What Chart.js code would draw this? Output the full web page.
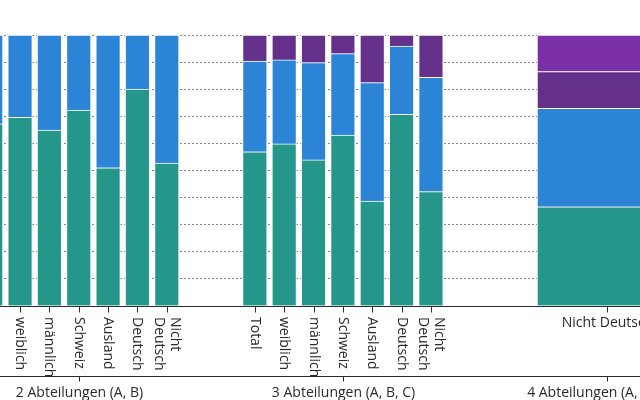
<!DOCTYPE html>
<html><head><meta charset="utf-8">
<script src="https://cdn.jsdelivr.net/npm/chart.js@4/dist/chart.umd.min.js"></script>
<style>html,body{margin:0;padding:0;background:#fff;overflow:hidden}#c{display:block}</style>
</head><body>
<canvas id="c" width="640" height="400"></canvas>
<script>
// ---- data ----
const groupLabels = ["2 Abteilungen (A, B)", "3 Abteilungen (A, B, C)", "4 Abteilungen (A, B, C, D)"];
const categories2 = ["Total", "weiblich", "männlich", "Schweiz", "Ausland", "Deutsch", "Nicht Deutsch"];
const categories3 = ["Total", "weiblich", "männlich", "Schweiz", "Ausland", "Deutsch", "Nicht Deutsch"];
const categories4 = ["Nicht Deutsch"];
const abtA2 = [67.2, 69.6, 64.9, 72.3, 51.0, 80.0, 52.7];
const abtB2 = [32.8, 30.4, 35.1, 27.7, 49.0, 20.0, 47.3];
const abtA3 = [56.9, 59.8, 53.9, 63.1, 38.7, 70.7, 42.2];
const abtB3 = [33.5, 31.0, 35.9, 30.0, 43.7, 25.2, 42.2];
const abtC3 = [9.6, 9.2, 10.2, 6.9, 17.6, 4.1, 15.6];
const abtA4 = [36.6];
const abtB4 = [36.3];
const abtC4 = [13.6];
const abtD4 = [13.5];
const yTicks = [0, 10, 20, 30, 40, 50, 60, 70, 80, 90, 100];

// ---- layout ----
const SLOT_GAPS = [2, 5];
const X_MIN = 0.317, X_MAX = 22.123;
const COLORS = {A: "#24968a", B: "#2b84d6", C: "#653089", D: "#7c30a8"};
const FONT = "'Open Sans', 'Noto Sans', sans-serif";

const groups = [categories2, categories3, categories4];
const groupStarts = [];
let s = 0;
groups.forEach((g, i) => { groupStarts.push(s); s += g.length + (SLOT_GAPS[i] || 0); });
const pts = (gi, arr) => arr.map((v, i) => ({x: groupStarts[gi] + i, y: v}));

const narrow = {barThickness: 24.5, borderColor: "#fff", borderWidth: 1, stack: "s"};
const wide = {barThickness: 140, borderColor: "#fff", borderWidth: 1, stack: "s"};

const datasets = [
  Object.assign({label: "A", data: pts(0, abtA2).concat(pts(1, abtA3)), backgroundColor: COLORS.A}, narrow),
  Object.assign({label: "B", data: pts(0, abtB2).concat(pts(1, abtB3)), backgroundColor: COLORS.B}, narrow),
  Object.assign({label: "C", data: pts(1, abtC3), backgroundColor: COLORS.C}, narrow),
  Object.assign({label: "A4", data: pts(2, abtA4), backgroundColor: COLORS.A}, wide),
  Object.assign({label: "B4", data: pts(2, abtB4), backgroundColor: COLORS.B}, wide),
  Object.assign({label: "C4", data: pts(2, abtC4), backgroundColor: COLORS.C}, wide),
  Object.assign({label: "D4", data: pts(2, abtD4), backgroundColor: COLORS.D}, wide),
];

const axisPlugin = {
  id: "multiAxis",
  afterDraw(chart) {
    const ctx = chart.ctx, xs = chart.scales.x, ca = chart.chartArea;
    const y0 = Math.round(ca.bottom) + 0.5;
    const y1 = 376.5;
    ctx.save();
    ctx.strokeStyle = "#2a2a2a"; ctx.lineWidth = 1;
    ctx.beginPath(); ctx.moveTo(0, y0); ctx.lineTo(640, y0); ctx.stroke();
    ctx.beginPath(); ctx.moveTo(0, y1); ctx.lineTo(640, y1); ctx.stroke();
    ctx.fillStyle = "#2a2a2a";
    ctx.font = "14px " + FONT;
    groups.forEach((cats, gi) => {
      cats.forEach((lab, i) => {
        const px = Math.round(xs.getPixelForValue(groupStarts[gi] + i)) + 0.5;
        ctx.beginPath(); ctx.moveTo(px, y0); ctx.lineTo(px, y0 + 6); ctx.stroke();
        if (gi === 2) {
          ctx.textAlign = "center"; ctx.textBaseline = "alphabetic";
          ctx.fillText(lab, px, 327);
        } else {
          const lines = lab.split(" ");
          ctx.save();
          ctx.translate(px, 317);
          ctx.rotate(Math.PI / 2);
          ctx.textAlign = "left"; ctx.textBaseline = "middle";
          const lh = 16;
          lines.forEach((ln, li) => ctx.fillText(ln, 0, (li - (lines.length - 1) / 2) * lh + 1));
          ctx.restore();
        }
      });
      const gc = Math.round(xs.getPixelForValue(groupStarts[gi] + (cats.length - 1) / 2)) + 0.5;
      ctx.beginPath(); ctx.moveTo(gc, y1); ctx.lineTo(gc, y1 + 5); ctx.stroke();
      ctx.textAlign = "center"; ctx.textBaseline = "alphabetic";
      ctx.fillText(groupLabels[gi], gc, 397);
    });
    ctx.restore();
  }
};

new Chart(document.getElementById("c"), {
  type: "bar",
  data: {datasets},
  options: {
    responsive: false,
    animation: false,
    layout: {padding: {top: 35, bottom: 94, left: 0, right: 0}},
    plugins: {legend: {display: false}, tooltip: {enabled: false}},
    scales: {
      x: {type: "linear", min: X_MIN, max: X_MAX, offset: false, stacked: true, display: false},
      y: {
        stacked: true, min: 0, max: 100,
        afterBuildTicks: (sc) => { sc.ticks = yTicks.map(v => ({value: v})); },
        ticks: {display: false},
        grid: {color: "#8a8a8a", lineWidth: 1, drawTicks: false},
        border: {display: false, dash: [2, 2]}
      }
    }
  },
  plugins: [axisPlugin]
});
</script>
</body></html>
